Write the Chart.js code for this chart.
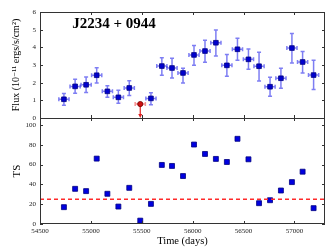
<!DOCTYPE html>
<html>
<head>
<meta charset="utf-8">
<script src="https://cdn.jsdelivr.net/npm/chart.js@4"></script>
<style>
  html, body { margin: 0; padding: 0; background: #fff; }
  #wrap { width: 332px; height: 249px; }
</style>
</head>
<body>
<div id="wrap"><canvas id="lcChart" width="332" height="249"></canvas></div>
<script>
// bin centres (MJD) and half width
const times = [54735, 54845, 54953, 55057, 55162, 55270, 55377, 55485, 55590, 55697, 55797, 55905,
               56013, 56121, 56228, 56336, 56440, 56548, 56652, 56760, 56867, 56975, 57080, 57188];
const halfBin = 50;

// flux, 1e-11 erg/s/cm2 (null = upper limit bin)
const flux   = [1.06, 1.79, 1.88, 2.42, 1.51, 1.17, 1.70, null, 1.11, 2.94, 2.83, 2.55,
                3.57, 3.79, 4.26, 2.98, 3.89, 3.32, 2.93, 1.77, 2.25, 3.96, 3.17, 2.43];
const fluxHi = [1.38, 2.19, 2.32, 2.85, 1.83, 1.57, 2.11, null, 1.43, 3.41, 3.38, 2.82,
                4.11, 4.40, 4.98, 3.60, 4.51, 3.90, 3.72, 2.30, 2.81, 4.79, 3.77, 3.27];
const fluxLo = [0.72, 1.40, 1.45, 1.98, 1.17, 0.83, 1.28, null, 0.75, 2.42, 2.26, 1.98,
                2.98, 3.15, 3.51, 2.36, 3.27, 2.76, 2.09, 1.23, 1.68, 3.11, 2.55, 1.62];
const ulTime = 55485;
const ulValue = 0.79;

// test statistic
const ts = [17, 35.5, 33.2, 66, 30.5, 17.6, 36.5, 3.4, 20.3, 59.6, 58.6, 48.4,
            80.2, 70.7, 65.7, 62.6, 86, 65.3, 21, 24, 33.8, 42.3, 52.8, 16];
const tsThreshold = 25;

const xTicks = [54500, 55000, 55500, 56000, 56500, 57000];
const fluxTicks = [0, 1, 2, 3, 4, 5, 6];
const tsTicks = [0, 20, 40, 60, 80, 100];

const serif = '"Liberation Serif", "DejaVu Serif", serif';

const fluxPts = [];
times.forEach((t, i) => { if (flux[i] !== null) fluxPts.push({x: t, y: flux[i]}); });
const tsPts = times.map((t, i) => ({x: t, y: ts[i]}));

// error bars, upper limit arrow, frame with inward ticks
const extras = {
    id: 'extras',
    beforeDatasetsDraw(chart) {
        const {ctx, scales: {x, y}} = chart;
        ctx.save();
        ctx.lineWidth = 1.5;
        ctx.strokeStyle = 'rgba(40,40,235,0.6)';
        times.forEach((t, i) => {
            if (flux[i] === null) return;
            const px = x.getPixelForValue(t), py = y.getPixelForValue(flux[i]);
            const x0 = x.getPixelForValue(t - halfBin), x1 = x.getPixelForValue(t + halfBin);
            const yh = y.getPixelForValue(fluxHi[i]), yl = y.getPixelForValue(fluxLo[i]);
            ctx.beginPath();
            ctx.moveTo(x0, py); ctx.lineTo(x1, py);
            ctx.moveTo(px, yh); ctx.lineTo(px, yl);
            ctx.moveTo(x0, py - 2); ctx.lineTo(x0, py + 2);
            ctx.moveTo(x1, py - 2); ctx.lineTo(x1, py + 2);
            ctx.moveTo(px - 2, yh); ctx.lineTo(px + 2, yh);
            ctx.moveTo(px - 2, yl); ctx.lineTo(px + 2, yl);
            ctx.stroke();
        });
        // upper limit
        const ux = x.getPixelForValue(ulTime), uy = y.getPixelForValue(ulValue);
        const u0 = x.getPixelForValue(ulTime - halfBin), u1 = x.getPixelForValue(ulTime + halfBin);
        const uz = y.getPixelForValue(0);
        ctx.strokeStyle = 'rgba(240,40,40,0.5)';
        ctx.beginPath();
        ctx.moveTo(u0, uy); ctx.lineTo(u1, uy);
        ctx.moveTo(u0, uy - 2); ctx.lineTo(u0, uy + 2);
        ctx.moveTo(u1, uy - 2); ctx.lineTo(u1, uy + 2);
        ctx.stroke();
        ctx.strokeStyle = '#e02020';
        ctx.fillStyle = '#e02020';
        ctx.lineWidth = 1.2;
        ctx.beginPath();
        ctx.moveTo(ux, uy); ctx.lineTo(ux, uz - 3);
        ctx.stroke();
        ctx.beginPath();
        ctx.moveTo(ux - 2, uz - 4); ctx.lineTo(ux + 2, uz - 4); ctx.lineTo(ux, uz);
        ctx.closePath();
        ctx.fill();
        ctx.restore();
    },
    afterDraw(chart) {
        const {ctx, chartArea: a, scales: {x, y, y2}} = chart;
        const mid = y.bottom;
        ctx.save();
        ctx.strokeStyle = '#333';
        ctx.lineWidth = 1;
        ctx.strokeRect(a.left + 0.5, a.top + 0.5, a.right - a.left - 1, a.bottom - a.top - 1);
        ctx.beginPath();
        ctx.moveTo(a.left, mid + 0.5); ctx.lineTo(a.right, mid + 0.5);
        ctx.stroke();
        const tl = 3;
        ctx.beginPath();
        xTicks.forEach(v => {
            const px = Math.round(x.getPixelForValue(v)) + 0.5;
            ctx.moveTo(px, a.top); ctx.lineTo(px, a.top + tl);
            ctx.moveTo(px, mid); ctx.lineTo(px, mid - tl);
            ctx.moveTo(px, mid); ctx.lineTo(px, mid + tl);
            ctx.moveTo(px, a.bottom); ctx.lineTo(px, a.bottom - tl);
        });
        fluxTicks.forEach(v => {
            const py = Math.round(y.getPixelForValue(v)) + 0.5;
            ctx.moveTo(a.left, py); ctx.lineTo(a.left + tl, py);
            ctx.moveTo(a.right, py); ctx.lineTo(a.right - tl, py);
        });
        tsTicks.forEach(v => {
            const py = Math.round(y2.getPixelForValue(v)) + 0.5;
            ctx.moveTo(a.left, py); ctx.lineTo(a.left + tl, py);
            ctx.moveTo(a.right, py); ctx.lineTo(a.right - tl, py);
        });
        ctx.stroke();
        // flux tick labels (chart.js drops every other one on this short stacked axis)
        ctx.fillStyle = '#222';
        ctx.font = '7px ' + serif;
        ctx.textAlign = 'right';
        ctx.textBaseline = 'middle';
        fluxTicks.forEach(v => {
            ctx.fillText(String(v), a.left - 4, y.getPixelForValue(v));
        });
        // source name
        ctx.fillStyle = '#000';
        ctx.font = 'bold 15px ' + serif;
        ctx.textAlign = 'center';
        ctx.fillText('J2234 + 0944', 114, y.getPixelForValue(5.3));
        ctx.restore();
    }
};

const tickFont = {family: serif, size: 7};

new Chart(document.getElementById('lcChart'), {
    type: 'scatter',
    data: {
        datasets: [
            {
                type: 'line',
                data: [{x: 54500, y: tsThreshold}, {x: 57300, y: tsThreshold}],
                yAxisID: 'y2',
                borderColor: '#ff2a2a',
                borderWidth: 1.5,
                borderDash: [4, 3],
                pointRadius: 0,
                order: 0
            },
            {
                data: fluxPts,
                yAxisID: 'y',
                pointStyle: 'rect',
                pointRadius: 3.3,
                backgroundColor: '#0000d0',
                borderColor: '#000080',
                borderWidth: 0.8,
                order: 1
            },
            {
                data: [{x: ulTime, y: ulValue}],
                yAxisID: 'y',
                pointStyle: 'circle',
                pointRadius: 2.6,
                backgroundColor: '#d01010',
                borderColor: '#700000',
                borderWidth: 0.8,
                order: 1
            },
            {
                data: tsPts,
                yAxisID: 'y2',
                pointStyle: 'rect',
                pointRadius: 3.5,
                backgroundColor: '#0000e0',
                borderColor: '#000080',
                borderWidth: 0.8,
                order: 1
            }
        ]
    },
    options: {
        responsive: false,
        animation: false,
        layout: {padding: {left: 0, right: 7, top: 12, bottom: 0}},
        plugins: {legend: {display: false}, tooltip: {enabled: false}},
        scales: {
            x: {
                type: 'linear',
                min: 54500,
                max: 57300,
                afterBuildTicks: s => { s.ticks = xTicks.map(v => ({value: v})); },
                afterFit: s => { s.height = 25; },
                grid: {display: false, drawTicks: false},
                border: {display: false},
                ticks: {font: tickFont, color: '#222', padding: 3, maxRotation: 0, autoSkip: false,
                        callback: v => String(v)},
                title: {display: true, text: 'Time (days)', color: '#000',
                        font: {family: serif, size: 10.5}, padding: {top: 0, bottom: 1}}
            },
            y2: {
                type: 'linear',
                position: 'left',
                stack: 'lc',
                stackWeight: 1,
                min: 0,
                max: 107,
                afterBuildTicks: s => { s.ticks = tsTicks.map(v => ({value: v})); },
                afterFit: s => { s.width = 40; },
                grid: {display: false, drawTicks: false},
                border: {display: false},
                ticks: {font: tickFont, color: '#222', padding: 4, autoSkip: false},
                title: {display: true, text: 'TS', color: '#000',
                        font: {family: serif, size: 11}, padding: {top: 11, bottom: 0}}
            },
            y: {
                type: 'linear',
                position: 'left',
                stack: 'lc',
                stackWeight: 1,
                min: 0,
                max: 6,
                afterBuildTicks: s => { s.ticks = fluxTicks.map(v => ({value: v})); },
                afterFit: s => { s.width = 40; },
                grid: {display: false, drawTicks: false},
                border: {display: false},
                ticks: {display: false},
                title: {display: true, text: 'Flux (10⁻¹¹ ergs/s/cm²)', color: '#000',
                        font: {family: serif, size: 10}, padding: {top: 10, bottom: 0}}
            }
        }
    },
    plugins: [extras]
});
</script>
</body>
</html>
